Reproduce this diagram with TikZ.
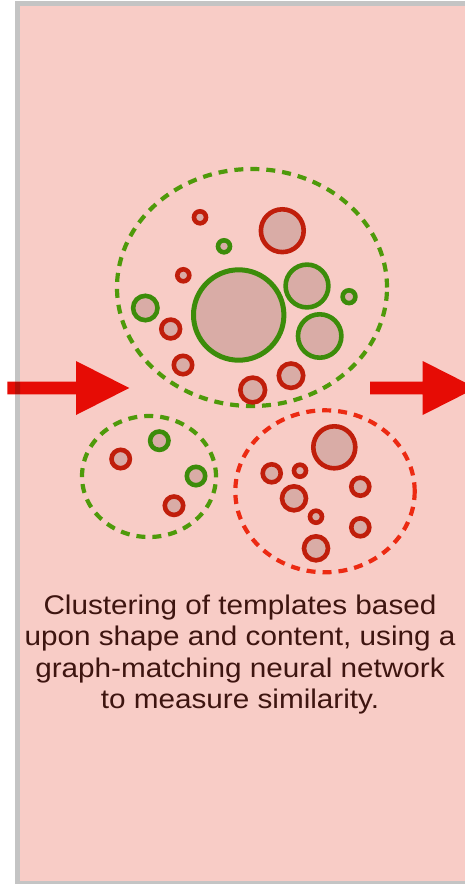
\documentclass[tikz,border=0pt]{standalone}
\usepackage{fontspec}
\newfontfamily\capfont{Liberation Sans}[FakeStretch=1.1]
\usetikzlibrary{shapes.geometric}
\definecolor{panel}{HTML}{F8CCC6}
\definecolor{frame}{HTML}{C4C4C4}
\definecolor{ringfill}{HTML}{D9ACA6}
\definecolor{ringred}{HTML}{C01E0B}
\definecolor{ringgreen}{HTML}{3C8C0A}
\definecolor{dashgreen}{HTML}{4E9A0A}
\definecolor{dashred}{HTML}{EC2A12}
\definecolor{arrowred}{HTML}{E60C05}
\definecolor{arrowdark}{HTML}{B40F08}
\definecolor{captext}{HTML}{3E1510}
\tikzset{
  ringbase/.style={circle, fill=ringfill, line width=4.6pt, inner sep=0pt, outer sep=0pt},
  rr/.style={ringbase, draw=ringred, minimum size=2*#1-4.6pt},
  gr/.style={ringbase, draw=ringgreen, minimum size=2*#1-4.6pt},
  clusterbox/.style={ellipse, line width=4.2pt, dash pattern=on 9pt off 7pt, inner sep=0pt, outer sep=0pt},
  blockarrow/.style={fill=arrowred},
}
\begin{document}
\begin{tikzpicture}[x=1pt,y=-1pt]
\useasboundingbox (0,0) rectangle (465,884);
\clip (0,0) rectangle (465,884);
\fill[white] (0,0) rectangle (465,884);
% panel
\draw[frame, line width=5pt, fill=panel] (17.5,3.5) rectangle (490,883.5);
% arrows
\fill[blockarrow] (7.3,381.7) -- (76,381.7) -- (76,361) -- (129.3,388) -- (76,415) -- (76,394.3) -- (7.3,394.3) -- cycle;
\begin{scope}
  \clip (15,370) rectangle (20,400);
  \fill[arrowdark] (7.3,381.7) rectangle (25,394.3);
\end{scope}
\fill[blockarrow] (370,381.7) -- (422.7,381.7) -- (422.7,361) -- (476,388) -- (422.7,415) -- (422.7,394.3) -- (370,394.3) -- cycle;
% clusters
\node[clusterbox, draw=dashgreen, minimum width=270pt, minimum height=237pt] (big) at (252,287.5) {};
\node[clusterbox, draw=dashgreen, minimum width=134pt, minimum height=121pt] (left) at (149,476.5) {};
\node[clusterbox, draw=dashred, minimum width=179.4pt, minimum height=162pt] (right) at (325,491.3) {};
% top cluster
\node[rr=8.3pt] (t1) at (200,217.3) {};
\node[rr=23.7pt] (t2) at (282.3,230.7) {};
\node[gr=8.3pt] (t3) at (224,246.3) {};
\node[rr=8.3pt] (t4) at (183.3,275.3) {};
\node[ringbase, draw=ringgreen, line width=5pt, minimum size=90.4pt] (t5) at (238.7,315) {};
\node[gr=23.7pt] (t6) at (307,286) {};
\node[gr=8.7pt] (t7) at (349,296.7) {};
\node[gr=24pt] (t8) at (319.7,336) {};
\node[gr=14.5pt] (t9) at (145.3,308) {};
\node[rr=11.7pt] (t10) at (170.7,329) {};
\node[rr=11.5pt] (t11) at (183,365) {};
\node[rr=14.5pt] (t12) at (291,375.7) {};
\node[rr=14.7pt] (t13) at (252.7,390) {};
% lower left cluster
\node[rr=11.5pt] (l1) at (120.7,459) {};
\node[gr=11.5pt] (l2) at (159.3,440.7) {};
\node[gr=11.5pt] (l3) at (196,476) {};
\node[rr=11.5pt] (l4) at (174,505.7) {};
% lower right cluster
\node[rr=23.3pt] (r1) at (334.3,447.3) {};
\node[rr=11.3pt] (r2) at (271.7,473.3) {};
\node[rr=8.3pt] (r3) at (300,470.7) {};
\node[rr=14.3pt] (r4) at (294,498.3) {};
\node[rr=11.3pt] (r5) at (360.3,486.7) {};
\node[rr=8.3pt] (r6) at (316,516.7) {};
\node[rr=11.3pt] (r7) at (360.3,527.3) {};
\node[rr=14.3pt] (r8) at (316,548.3) {};
% caption
\node[align=center, text=captext, inner sep=0pt, font=\capfont\fontsize{27}{31.5}\selectfont] (caption) at (240,654.5)
  {Clustering of templates based\\upon shape and content, using a\\graph-matching neural network\\to measure similarity.};
\end{tikzpicture}
\end{document}
